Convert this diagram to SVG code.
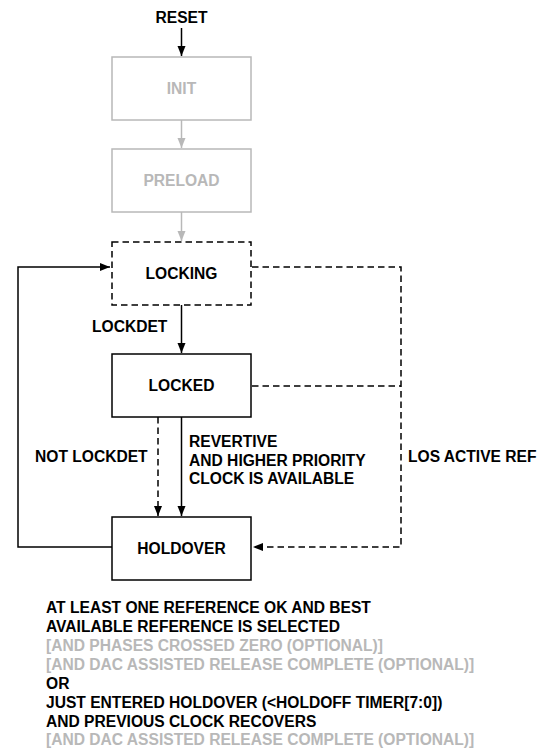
<svg xmlns="http://www.w3.org/2000/svg" width="548" height="748" viewBox="0 0 548 748">
<style>
text{font-family:"Liberation Sans",Arial,sans-serif;font-weight:bold;font-size:15.6px;fill:#000}
.g{fill:#b8b8b8}
.c{text-anchor:middle}
.box{fill:#fff;stroke:#000;stroke-width:1.5}
.gbox{fill:#fff;stroke:#b8b8b8;stroke-width:1.5}
.dbox{fill:#fff;stroke:#000;stroke-width:1.5;stroke-dasharray:6.5,4}
.ln{fill:none;stroke:#000;stroke-width:1.5}
.gln{fill:none;stroke:#b8b8b8;stroke-width:1.5}
.dln{fill:none;stroke:#000;stroke-width:1.5;stroke-dasharray:6.5,4}
</style>
<defs>
<marker id="ah" viewBox="0 0 10 10" refX="10" refY="5" markerWidth="10" markerHeight="10" markerUnits="userSpaceOnUse" orient="auto"><path d="M0,1 L10,5 L0,9 z" fill="#000"/></marker>
<marker id="ahg" viewBox="0 0 10 10" refX="10" refY="5" markerWidth="10" markerHeight="10" markerUnits="userSpaceOnUse" orient="auto"><path d="M0,1 L10,5 L0,9 z" fill="#b8b8b8"/></marker>
</defs>
<g id="connectors">
<line class="ln" x1="181.5" y1="28" x2="181.5" y2="56" marker-end="url(#ah)"/>
<line class="gln" x1="181.5" y1="120" x2="181.5" y2="148" marker-end="url(#ahg)"/>
<line class="gln" x1="181.5" y1="212" x2="181.5" y2="241" marker-end="url(#ahg)"/>
<line class="ln" x1="181.5" y1="305" x2="181.5" y2="353" marker-end="url(#ah)"/>
<polyline class="ln" points="112,547 18,547 18,267 110,267" marker-end="url(#ah)"/>
<line class="dln" x1="158" y1="417" x2="158" y2="516" marker-end="url(#ah)"/>
<line class="ln" x1="181.5" y1="417" x2="181.5" y2="516" marker-end="url(#ah)"/>
<polyline class="dln" points="252,267 401,267 401,547 253,547" marker-end="url(#ah)"/>
<line class="dln" x1="252" y1="386" x2="401" y2="386"/>
<text x="181.5" y="23" class="c">RESET</text>
<text x="92" y="332">LOCKDET</text>
<text x="35" y="462">NOT LOCKDET</text>
<text x="189" y="447">REVERTIVE</text>
<text x="189" y="466">AND HIGHER PRIORITY</text>
<text x="189" y="484">CLOCK IS AVAILABLE</text>
<text x="408" y="462">LOS ACTIVE REF</text>
</g>
<g id="init"><rect class="gbox" x="112" y="57" width="139" height="63"/><text class="g c" x="181.5" y="94">INIT</text></g>
<g id="preload"><rect class="gbox" x="112" y="149" width="139" height="63"/><text class="g c" x="181.5" y="186">PRELOAD</text></g>
<g id="locking"><rect class="dbox" x="112" y="242" width="139" height="63"/><text class="c" x="181.5" y="279">LOCKING</text></g>
<g id="locked"><rect class="box" x="112" y="354" width="139" height="63"/><text class="c" x="181.5" y="391">LOCKED</text></g>
<g id="holdover"><rect class="box" x="112" y="517" width="139" height="63"/><text class="c" x="181.5" y="554">HOLDOVER</text></g>
<g id="conditions">
<text x="46" y="613">AT LEAST ONE REFERENCE OK AND BEST</text>
<text x="46" y="632">AVAILABLE REFERENCE IS SELECTED</text>
<text x="46" y="651" class="g">[AND PHASES CROSSED ZERO (OPTIONAL)]</text>
<text x="46" y="670" class="g">[AND DAC ASSISTED RELEASE COMPLETE (OPTIONAL)]</text>
<text x="46" y="689">OR</text>
<text x="46" y="708">JUST ENTERED HOLDOVER (&lt;HOLDOFF TIMER[7:0])</text>
<text x="46" y="727">AND PREVIOUS CLOCK RECOVERS</text>
<text x="46" y="745" class="g">[AND DAC ASSISTED RELEASE COMPLETE (OPTIONAL)]</text>
</g>
</svg>
